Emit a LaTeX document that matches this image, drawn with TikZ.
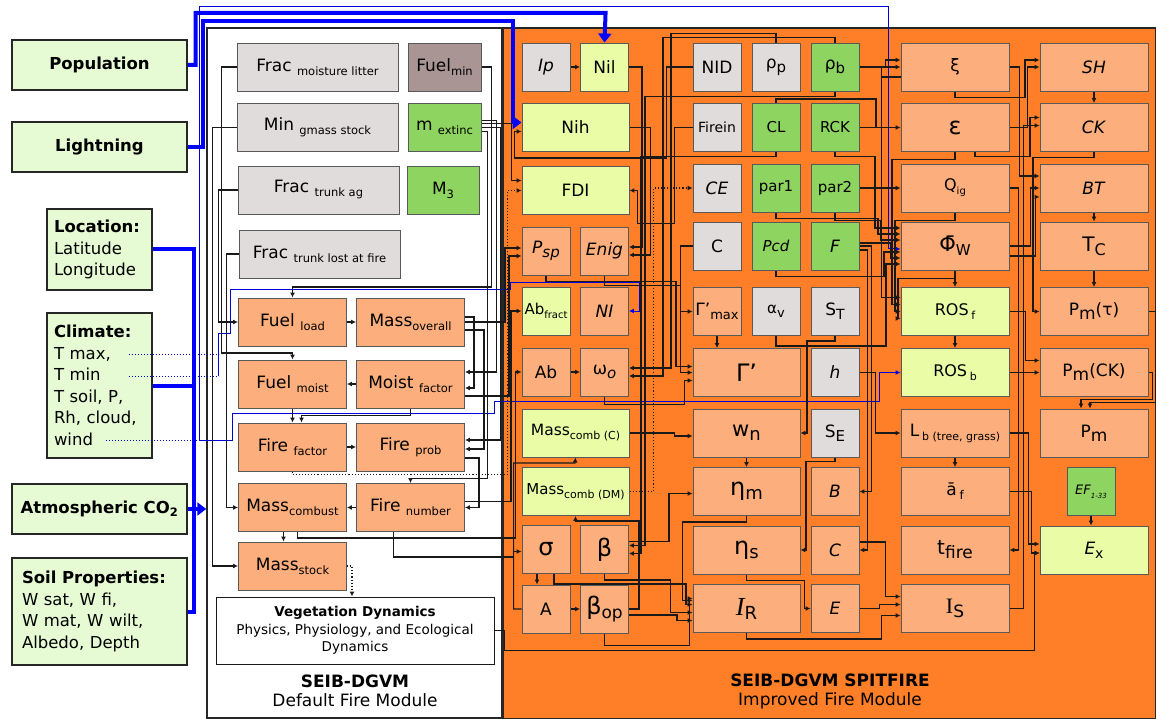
\documentclass[tikz,border=0pt]{standalone}
\usepackage{fontspec}
\setmainfont{DejaVu Sans}
\newfontfamily\serifI{Liberation Serif}
\usetikzlibrary{arrows.meta,backgrounds}
\definecolor{inputgreen}{HTML}{E6FAD4}
\definecolor{boxgrey}{HTML}{E1DCDC}
\definecolor{boxbrown}{HTML}{A99593}
\definecolor{boxgreen}{HTML}{8ED460}
\definecolor{boxyellow}{HTML}{EAFCA6}
\definecolor{boxorange}{HTML}{FCAE7C}
\definecolor{panelorange}{HTML}{FE7F28}
\definecolor{linkblue}{HTML}{0000FF}
\newcommand{\fsz}[1]{\fontsize{#1}{#1}\selectfont}
\newcommand{\lowsub}[2][11.5]{\raisebox{-4pt}{\fsz{#1}#2}}

\begin{document}
\begin{tikzpicture}[x=1pt, y=-1pt,
  box/.style={draw=black!65, line width=0.9pt, minimum height=48pt, inner sep=1pt, align=center, font=\fsz{17}},
  inbox/.style={box, fill=inputgreen, draw=black!85, line width=1.1pt, font=\fontsize{16.5}{21.5}\selectfont},
  sbox/.style={box, minimum width=48pt},
  wbox/.style={box, minimum width=107pt},
  dbox/.style={box, fill=boxorange, minimum width=108pt},
  vbox/.style={box, fill=white, draw=black!90, minimum width=278pt, minimum height=67pt, font=\fontsize{13.5}{17.5}\selectfont},
  arr/.style={-{Latex[length=5pt,width=5pt]}, line width=1.1pt, black!90},
  darr/.style={arr, dotted},
  bthick/.style={line width=4pt, linkblue},
  barr/.style={-{Triangle[length=9pt,width=13pt]}},
  bthin/.style={line width=1pt, linkblue!85!black, -{Latex[length=5pt,width=5pt]}},
  bdot/.style={line width=1pt, linkblue!85!black, dotted},
  panel/.style={draw=black!85, line width=1.5pt, inner sep=0pt},
  ptitle/.style={align=center, font=\fontsize{17}{19}\selectfont},
]
  \useasboundingbox (0,0) rectangle (1156,719);
  \begin{pgfonlayer}{background}
    \fill[white] (0,0) rectangle (1156,719);
    \node[panel, fill=white, minimum width=295pt, minimum height=690pt] (dflt) at (354.5,373) {};
    \node[panel, fill=panelorange, minimum width=653pt, minimum height=691pt] (spit) at (829.5,373.5) {};
  \end{pgfonlayer}

  % Inputs (left)
  \node[inbox, minimum width=175pt, minimum height=50pt] (pop) at (99.5,65) {\textbf{Population}};
  \node[inbox, minimum width=175pt, minimum height=50pt] (light) at (99.5,147) {\textbf{Lightning}};
  \node[inbox, minimum width=105pt, minimum height=81pt, text width=91pt, align=left] (loc) at (99.5,249.5) {\textbf{Location:}\\Latitude\\Longitude};
  \node[inbox, minimum width=105pt, minimum height=145pt, text width=91pt, align=left] (clim) at (99.5,385.5) {\textbf{Climate:}\\T max,\\T min\\T soil, P,\\Rh, cloud,\\wind};
  \node[inbox, minimum width=175pt, minimum height=50pt] (co2) at (99.5,509) {\textbf{Atmospheric CO\textsubscript{2}}};
  \node[inbox, minimum width=175pt, minimum height=107pt, text width=155pt, align=left] (soil) at (99.5,611.5) {\textbf{Soil Properties:}\\W sat, W fi,\\W mat, W wilt,\\Albedo, Depth};
  \coordinate (bus) at (194,509);

  % Default fire module
  \node[box, fill=boxgrey, minimum width=161pt] (fml) at (317.5,67) {Frac \lowsub{moisture litter}};
  \node[box, fill=boxbrown, minimum width=73pt] (fmin) at (444.5,67) {Fuel\lowsub{min}};
  \node[box, fill=boxgrey, minimum width=161pt] (mgs) at (317.5,127.5) {Min \lowsub{gmass stock}};
  \node[box, fill=boxgreen, minimum width=73pt] (mext) at (444.5,127.5) {m \lowsub{extinc}};
  \node[box, fill=boxgrey, minimum width=161pt] (fta) at (318.5,190) {Frac \lowsub{trunk ag}};
  \node[box, fill=boxgreen, minimum width=72pt] (m3) at (443,190) {M\lowsub{3}};
  \node[box, fill=boxgrey, minimum width=161pt] (ftl) at (319.5,254) {Frac \lowsub{trunk lost at fire}};
  \node[dbox] (fload) at (292.5,322) {Fuel \lowsub{load}};
  \node[dbox] (mover) at (410.5,322) {Mass\lowsub{overall}};
  \node[dbox] (fmoist) at (292.5,384) {Fuel \lowsub{moist}};
  \node[dbox] (mfact) at (410.5,384) {Moist \lowsub{factor}};
  \node[dbox] (ffact) at (292.5,447) {Fire \lowsub{factor}};
  \node[dbox] (fprob) at (410.5,447) {Fire \lowsub{prob}};
  \node[dbox] (mcomb) at (292.5,507.5) {Mass\lowsub{combust}};
  \node[dbox] (fnum) at (410.5,507.5) {Fire \lowsub{number}};
  \node[dbox] (mstock) at (292.5,566) {Mass\lowsub{stock}};
  \node[vbox] (veg) at (355,630.5) {\textbf{Vegetation Dynamics}\\Physics, Physiology, and Ecological\\Dynamics};
  \node[ptitle] (dtitle) at (355,691) {\textbf{SEIB-DGVM}\\Default Fire Module};

  % SPITFIRE module
  \node[sbox, fill=boxgrey] (ip) at (546,67) {\textit{Ip}};
  \node[sbox, fill=boxyellow] (nil) at (604.5,67) {Nil};
  \node[wbox, fill=boxyellow] (nih) at (575.5,127.5) {Nih};
  \node[wbox, fill=boxyellow] (fdi) at (575.5,190.5) {FDI};
  \node[sbox, fill=boxorange] (psp) at (546,251) {\textit{P}\lowsub[15]{\textit{sp}}};
  \node[sbox, fill=boxorange] (enig) at (604.5,251) {\textit{Enig}};
  \node[sbox, fill=boxyellow] (abfract) at (546,311) {\fsz{15}Ab\lowsub[10]{fract}};
  \node[sbox, fill=boxorange] (ni) at (604.5,311) {\textit{NI}};
  \node[sbox, fill=boxorange] (ab) at (546,372) {Ab};
  \node[sbox, fill=boxorange] (omega) at (604.5,372) {ω\lowsub[15]{\textit{o}}};
  \node[wbox, fill=boxyellow] (mcc) at (575.5,433) {\fsz{15.5}Mass\lowsub[11]{comb (C)}};
  \node[wbox, fill=boxyellow] (mcdm) at (575.5,491.5) {\fsz{15}Mass\lowsub[11]{comb (DM)}};
  \node[sbox, fill=boxorange] (sigma) at (546,549.5) {\fsz{24}σ};
  \node[sbox, fill=boxorange] (beta) at (604.5,549.5) {\fsz{24}β};
  \node[sbox, fill=boxorange] (area) at (546,609) {A};
  \node[sbox, fill=boxorange] (bop) at (604.5,609) {\fsz{24}β\lowsub[17]{op}};

  \node[sbox, fill=boxgrey] (nid) at (717,67) {NID};
  \node[sbox, fill=boxgrey] (rhop) at (776,67) {ρ\lowsub[15]{p}};
  \node[sbox, fill=boxgreen] (rhob) at (835,67) {ρ\lowsub[15]{b}};
  \node[sbox, fill=boxgrey] (firein) at (717,127.5) {\fsz{14}Firein};
  \node[sbox, fill=boxgreen] (cl) at (776,127.5) {\fsz{15}CL};
  \node[sbox, fill=boxgreen] (rck) at (835,127.5) {\fsz{15}RCK};
  \node[sbox, fill=boxgrey] (ce) at (717,188) {\textit{CE}};
  \node[sbox, fill=boxgreen] (parone) at (776,188) {\fsz{15}par1};
  \node[sbox, fill=boxgreen] (partwo) at (835,188) {\fsz{15}par2};
  \node[sbox, fill=boxgrey] (cgrey) at (717,246) {C};
  \node[sbox, fill=boxgreen] (pcd) at (776,246) {\fsz{15}\textit{Pcd}};
  \node[sbox, fill=boxgreen] (fcoef) at (835,246) {\textit{F}};
  \node[sbox, fill=boxorange] (gmax) at (717,311.5) {Γ'\lowsub[13]{max}};
  \node[sbox, fill=boxgrey] (alphav) at (776,311.5) {\fsz{15}α\lowsub[13]{v}};
  \node[sbox, fill=boxgrey] (st) at (835,311.5) {S\lowsub[14]{T}};
  \node[wbox, fill=boxorange] (gam) at (746.5,372.5) {\fsz{24}Γ'};
  \node[sbox, fill=boxgrey] (hval) at (835,372.5) {\textit{h}};
  \node[wbox, fill=boxorange] (wn) at (746.5,433) {\fsz{21}w\lowsub[18]{n}};
  \node[sbox, fill=boxgrey] (se) at (835,433) {S\lowsub[15]{E}};
  \node[wbox, fill=boxorange] (etam) at (746.5,491.5) {\fsz{24}η\lowsub[18]{m}};
  \node[sbox, fill=boxorange] (bcoef) at (835,491.5) {\textit{B}};
  \node[wbox, fill=boxorange] (etas) at (746.5,550) {\fsz{24}η\lowsub[18]{s}};
  \node[sbox, fill=boxorange] (ccoef) at (835,550) {\textit{C}};
  \node[wbox, fill=boxorange] (ir) at (746.5,608.5) {{\serifI\itshape\fsz{26}I}\lowsub[18]{R}};
  \node[sbox, fill=boxorange] (ecoef) at (835,608.5) {\textit{E}};

  \node[dbox] (xi) at (955,67) {ξ};
  \node[dbox] (eps) at (955,127.5) {\fsz{24}ε};
  \node[dbox] (qig) at (955,188) {\fsz{16}Q\lowsub[10]{ig}};
  \node[dbox] (phiw) at (955,246) {\fsz{21}Φ̄\lowsub[15]{W}};
  \node[dbox, fill=boxyellow] (rosf) at (955,311.5) {\fsz{16}ROS\,\lowsub[11]{f}};
  \node[dbox, fill=boxyellow] (rosb) at (955,372.5) {\fsz{16}ROS\,\lowsub[11]{b}};
  \node[dbox] (lb) at (955,433) {L\,\lowsub[11]{b (tree, grass)}};
  \node[dbox] (af) at (955,491.5) {ā\,\lowsub[12]{f}};
  \node[dbox] (tfire) at (955,550) {\fsz{20}t\lowsub[17]{fire}};
  \node[dbox] (is) at (955,608.5) {{\serifI\fsz{22}I}\lowsub[17]{S}};

  \node[dbox] (sh) at (1094,67) {\textit{SH}};
  \node[dbox] (ck) at (1094,127.5) {\textit{CK}};
  \node[dbox] (bt) at (1094,188) {\textit{BT}};
  \node[dbox] (tc) at (1094,246) {\fsz{20}T\lowsub[16]{C}};
  \node[dbox] (pmtau) at (1094,311.5) {P\lowsub[17]{m}(τ)};
  \node[dbox] (pmck) at (1094,372.5) {P\lowsub[17]{m}(CK)};
  \node[dbox] (pm) at (1094,433) {P\lowsub[17]{m}};
  \node[sbox, fill=boxgreen] (ef) at (1091,491.5) {\fsz{13}\textit{EF}\lowsub[7]{\textit{1-33}}};
  \node[dbox, fill=boxyellow] (ex) at (1094,550) {\textit{E}\lowsub[14]{x}};
  \node[ptitle] (stitle) at (830,691) {\textbf{SEIB-DGVM SPITFIRE}\\Improved Fire Module};

  % Climate lines start inside the box
  \draw[bdot] ([xshift=-24pt,yshift=31.5pt]clim.east) -- ++(90,0);
  \draw[bdot] ([xshift=-24pt,yshift=9.5pt]clim.east) -- ++(90,0) coordinate (tj);
  \draw[bdot] ([xshift=-47pt,yshift=-54.5pt]clim.east) -- ++(94,0) coordinate (wj);

  \begin{pgfonlayer}{background}
    % Blue inputs
    \draw[bthick, barr] (pop.east) -- ++(8,0) |- ++(410,-52) -- (nil.north);
    \draw[bthick, barr] (light.east) -- ++(15,0) |- ++(310,-126) |- ([yshift=5pt]nih.west);
    \draw[bthick] (loc.east) -| (bus);
    \draw[bthick] (soil.east) -| (bus);
    \draw[bthick] (clim.east) -- (clim.east -| bus);
    \draw[bthick, barr] (co2.east) -- (co2.east -| dflt.west);
    \draw[bthin] (tj) |- ++(12,-43) |- ++(280,-44) |- ++(129,-6) |- (ni.east);
    \draw[bthin] (wj) |- ++(689,-433) |- ([yshift=-3pt]phiw.west);
    \draw[bthin] (wj) -- ++(33,0) |- ++(262,-27) |- ++(385,-12) |- (rosb.west);

    % Default module links
    \draw[arr] (fmin.east) -| ++(10,220) -| (fload.north);
    \draw[arr] (fml.west) -| ++(-15,286) -| (fmoist.north);
    \draw[arr] (mgs.west) -- ++(-24,0) |- (mstock.west);
    \draw[arr] (fta.west) -- ++(-19,0) |- (fload.west);
    \draw[arr] (ftl.west) -- ++(-12,0) |- (mcomb.west);
    \draw[arr] (fload) -- (mover);
    \draw[arr] (mfact) -- (fmoist);
    \draw[arr] (fmoist) -- (ffact);
    \draw[arr] (mfact.south) -- ++(0,7) -| ([xshift=9pt]ffact.north);
    \draw[arr] (ffact) -- (fprob);
    \draw[arr] (fnum) -- (mcomb);
    \draw[arr] ([xshift=-9pt]mcomb.south) -- ([xshift=-9pt]mstock.north);
    \draw[darr] (mstock.east) -| ([xshift=-3pt]veg.north);
    \draw[darr] (ffact.south) |- ++(215,3) |- (fdi.west);
    \draw[arr] ([yshift=7pt]mext.east) -- ++(15,0) |- ([yshift=12pt]mfact.east);
    \draw[arr] (mext.east) -- ++(19,0) |- ([yshift=7pt]fprob.east);
    \draw[arr] ([yshift=5pt]mover.east) -- ++(9,0) |- ([yshift=-4pt]mfact.east);
    \draw[arr] ([yshift=-8pt]mover.east) -- ++(19,0) |- ([yshift=-2pt]fprob.east);
    \draw[arr] ([yshift=-11pt]fprob.east) -- ++(14,0) |- (fnum.east);
    \draw[arr] ([yshift=-4pt]mext.east) -| ++(6,347) -| (fnum.north);

    % Default to SPITFIRE
    \draw[arr] ([yshift=4pt]mext.east) -- ++(30,0) |- ([yshift=10pt]fdi.west);
    \draw[arr] (mover.east) -- ++(40,0) |- ([yshift=3pt]psp.west);
    \draw[arr] ([yshift=-12pt]mfact.east) -- ++(44,0) |- ([yshift=-5pt]psp.west);
    \draw[arr] ([yshift=6pt]fnum.east) -- ++(46,0) |- (abfract.west);
    \draw[arr] ([xshift=5pt]mcomb.south) |- ++(218,6) |- (ab.west);
    \draw[arr] ([xshift=-17pt]fnum.south) |- ++(120,25) |- ([yshift=-2pt]sigma.west);
    \draw[arr] (veg.east) -- ++(10,0) |- ++(530,20) |- ([yshift=-3pt]ex.west);

    % SPITFIRE links
    \draw[arr] (ip) -- (nil);
    \draw[arr] (nil.east) -- ++(13,0) |- ([yshift=4pt]enig.east);
    \draw[arr] (nih.east) -- ++(21,0) |- ([yshift=-4pt]enig.east);
    \draw[arr] (nid.west) -- ++(-26,0) |- ++(-152,91) |- ([yshift=-4pt]nih.west);
    \draw[arr] (firein.west) -| ++(-18,96) -- ++(-37,0) |- (fdi.east);
    \draw[darr] (mcdm.east) -- ++(24,0) |- (ce.west);
    \draw[arr] (rhop.north) |- ++(-105,-9) |- ([yshift=4pt]omega.east);
    \draw[arr] (rhob.north) |- ++(-172,-5) |- ([yshift=-4pt]omega.east);
    \draw[arr] (rhob.south) |- ++(-190,5) |- ([yshift=4pt]beta.east);
    \draw[arr] (cl.south) |- ++(-135,5) |- ([yshift=-4pt]beta.east);
    \draw[arr] ([xshift=-9pt]sigma.south) -- ([xshift=-9pt]area.north);
    \draw[arr] (area) -- (bop);
    \draw[arr] (bop.east) -| ++(10,-88) -| (mcdm.south);
    \draw[arr] (area.west) -- ++(-8,0) |- ++(61.5,-146) -- (mcc.south);
    \draw[arr] (ab) -- (omega);
    \draw[arr] (gmax.south) -- (gmax.south |- gam.north);
    \draw[arr] (cgrey.west) -- ++(-12,0) |- (gmax.west);
    \draw[arr] (st.south) |- ++(-28,5) |- (wn.east);
    \draw[arr] (wn) -- (etam);
    \draw[arr] (se.south) |- ++(-29,4) |- (etas.east);
    \draw[arr] (etam.south) |- ++(-64,6) |- ([yshift=8pt]ir.west);
    \draw[arr] (etas.south) |- ++(58,6) |- (ecoef.west);
    \draw[arr] (fcoef.east) -- ++(12,0) |- (bcoef.east);
    \draw[arr] ([yshift=-4pt]fcoef.east) -- ++(8,0) |- (ccoef.east);
    \draw[arr] ([yshift=8pt]ccoef.east) -- ++(26,0) |- ([yshift=12pt]is.west);
    \draw[arr] (ecoef.east) -- ++(20,0) |- ([yshift=4pt]is.west);
    \draw[arr] (ir.south) |- ++(135,6) |- ([yshift=-7pt]is.west);
    \draw[arr] (psp.south) |- ++(130,6) |- ([yshift=6pt]gam.west);
    \draw[arr] (enig.south) |- ++(76,10) |- (gam.west);
    \draw[arr] (omega.south) |- ++(80,8) |- ([yshift=-8pt]gam.west);
    \draw[arr] (mcc.east) -- ++(45,0) |- ([yshift=-3pt]wn.west);
    \draw[arr] ([yshift=8pt]beta.east) -- ++(40,0) |- ([yshift=-2pt]etam.west);
    \draw[arr] ([yshift=-6pt]bop.east) -- ++(48,0) |- ([yshift=-12pt]ir.west);
    \draw[arr] (beta.south) |- ++(66,6) |- ([yshift=-4pt]ir.west);
    \draw[arr] ([xshift=8pt]sigma.south) |- ++(132,10) |- ([yshift=4pt]ir.west);
    \draw[arr] (bop.south) |- ++(85,12) |- ([yshift=10pt]ir.west);

    \draw[arr] (rck.south) |- ++(40,5) |- ([yshift=18pt]phiw.west);
    \draw[arr] (parone.south) |- ++(102,6) |- ([yshift=12pt]phiw.west);
    \draw[arr] (partwo.south) |- ++(46,8) |- ([yshift=6pt]phiw.west);
    \draw[arr] (pcd.south) |- ++(108,6) |- ([yshift=-6pt]phiw.west);
    \draw[arr] ([yshift=3pt]fcoef.east) -- ++(31,0) |- ([yshift=-12pt]phiw.west);
    \draw[arr] (alphav.south) |- ++(110,10) |- ([yshift=-18pt]phiw.west);
    \draw[arr] (rhob.east) -- ++(26,0) |- ([yshift=7pt]xi.west);
    \draw[arr] (rck.east) -- ++(22,0) |- (xi.west);
    \draw[arr] (cl.north) |- ++(100,-4) |- (eps.west);
    \draw[arr] (partwo) -- (qig);
    \draw[arr] ([yshift=-10pt]xi.west) -- ++(-19,0) |- ([yshift=14pt]rosf.west);
    \draw[arr] (eps.south) |- ++(-63,8) |- ([yshift=7pt]rosf.west);
    \draw[arr] (qig.south) |- ++(-60,8) |- (rosf.west);
    \draw[arr] (phiw.south) |- ++(-57,8) |- ([yshift=-7pt]rosf.west);
    \draw[arr] (phiw) -- (rosf);
    \draw[arr] (rosf) -- (rosb);
    \draw[arr] (hval.east) -- ++(16,0) |- (lb.west);
    \draw[arr] (lb) -- (af);
    \draw[arr] (qig.east) -- ++(9,0) |- (tfire.east);
    \draw[arr] (is.east) -- ++(14,0) |- ([yshift=2pt]ck.west);

    \draw[arr] (xi.south) |- ++(70,6) |- ([yshift=7pt]sh.west);
    \draw[arr] (eps.east) -- ++(18,0) |- (sh.west);
    \draw[arr] ([xshift=20pt]eps.south) |- ++(55,5) |- ([yshift=10pt]ck.west);
    \draw[arr] (sh) -- (ck);
    \draw[arr] (ck.south) |- ++(-61,6) |- (pmtau.west);
    \draw[arr] (phiw.east) -- ++(21,0) |- (bt.west);
    \draw[arr] (xi.east) -- ++(10,0) |- ([yshift=12pt]bt.west);
    \draw[arr] ([yshift=-10pt]phiw.east) -- ++(26,0) |- ([yshift=-9pt]bt.west);
    \draw[arr] (bt) -- (tc);
    \draw[arr] (tc) -- (pmtau);
    \draw[arr] (rosf.east) -- ++(16,0) |- ([yshift=12pt]pmck.west);
    \draw[arr] (rosb) -- (pmck);
    \draw[arr] (pmck.east) -| ++(4,27) -| ([xshift=-13pt]pm.north);
    \draw[arr] (pmtau.east) -| ++(7,91) -| ([xshift=-4pt]pm.north);
    \draw[arr] (ef.south) -- (ef.south |- ex.north);
    \draw[arr] (lb.east) -- ++(19,0) |- ([yshift=6pt]ex.west);
    \draw[arr] (af.east) -- ++(22,0) |- ([yshift=-3pt]ex.west);
  \end{pgfonlayer}
\end{tikzpicture}
\end{document}
